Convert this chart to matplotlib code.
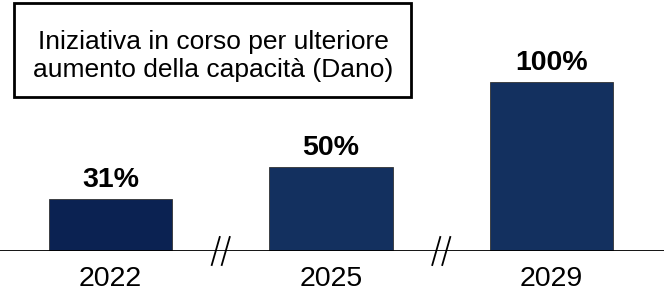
import numpy as np
import matplotlib.pyplot as plt
from matplotlib.patches import Rectangle

plt.rcParams['font.family'] = ['Liberation Sans', 'DejaVu Sans']

years = ['2022', '2025', '2029']
values = [31, 50, 100]
labels = ['31%', '50%', '100%']
colors = ['#0b2252', '#13305f', '#13305f']
note = 'Iniziativa in corso per ulteriore\naumento della capacità (Dano)'

W, H = 664, 297
fig = plt.figure(figsize=(W / 100, H / 100), dpi=100)
ax = fig.add_axes([0, 46 / H, 1, 251 / H])

x = np.arange(len(years))
ax.bar(x, values, width=0.558, color=colors, edgecolor='#333333', linewidth=0.6, zorder=2)
ax.set_xlim(-0.501, 2.51)
ymax = 100 * 251 / 169
ax.set_ylim(0, ymax)
ax.axhline(0, color='black', lw=1.3, zorder=3)

for xi, v, lab in zip(x, values, labels):
    ax.annotate(lab, (xi, v), xytext=(0, 4), textcoords='offset points',
                ha='center', va='bottom', fontsize=20.5, fontweight='bold')
    ax.annotate(years[xi], (xi, 0), xytext=(0, -11), textcoords='offset points',
                ha='center', va='top', fontsize=20.5)

# axis break marks between categories
px = 1 / 220.5
py = ymax / 251
for xm in (x[:-1] + x[1:]) / 2:
    for dx in (-5, 5):
        ax.plot([xm + (dx - 4) * px, xm + (dx + 4) * px], [-14 * py, 14 * py],
                color='black', lw=1.3, clip_on=False, zorder=4)

ax.axis('off')

fig.patches.append(Rectangle((14 / W, 1 - 97 / H), 397 / W, 94 / H, transform=fig.transFigure,
                             facecolor='white', edgecolor='black', lw=2))
fig.text(213 / W, 1 - 56 / H, note, ha='center', va='center', fontsize=19, linespacing=1.25)

fig.savefig('out.png', dpi=100)
